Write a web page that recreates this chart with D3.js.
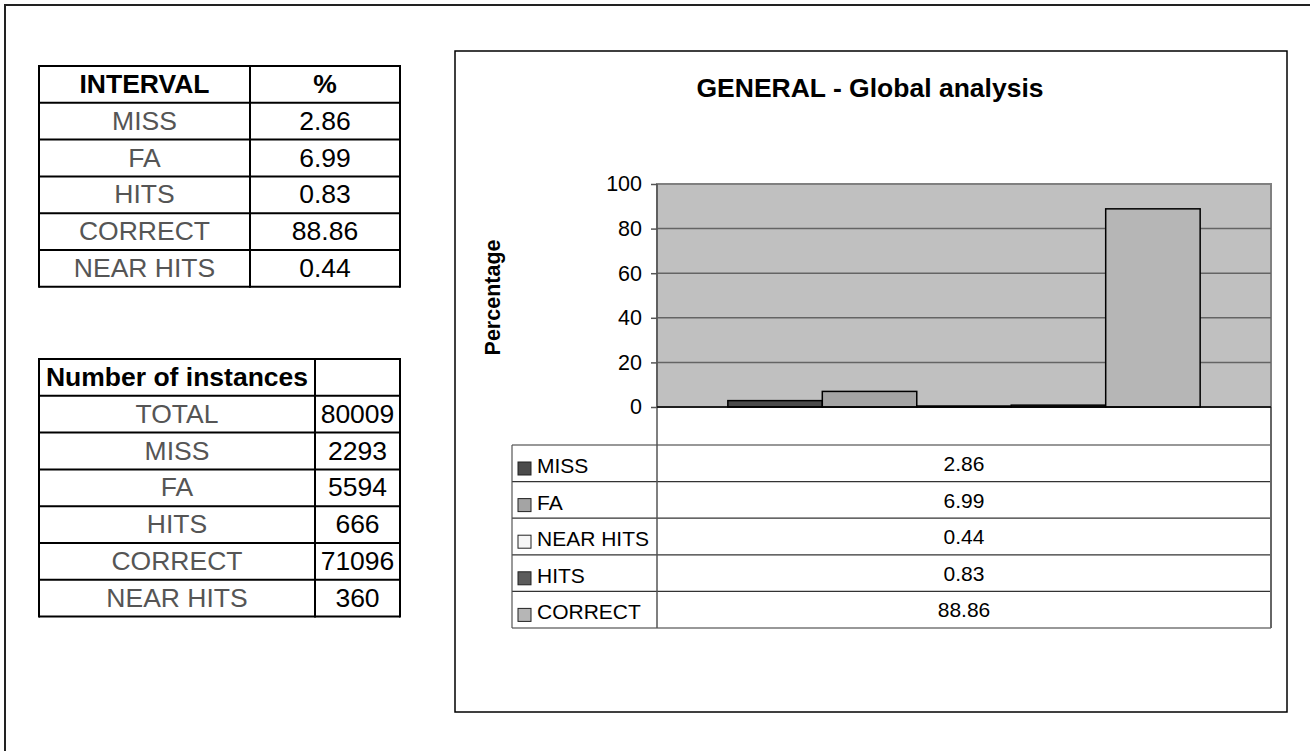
<!DOCTYPE html>
<html>
<head>
<meta charset="utf-8">
<script src="https://cdn.jsdelivr.net/npm/d3@7"></script>
<style>
  html, body { margin: 0; padding: 0; background: #fff; }
  svg { display: block; font-family: "Liberation Sans", Arial, sans-serif; }
</style>
</head>
<body>
<svg id="sheet" width="1310" height="751"></svg>
<script>
// Summary table: share of each interval type (%)
const intervalLabels = ["MISS", "FA", "HITS", "CORRECT", "NEAR HITS"];
const intervalPct = [2.86, 6.99, 0.83, 88.86, 0.44];

// Counts table
const instanceLabels = ["TOTAL", "MISS", "FA", "HITS", "CORRECT", "NEAR HITS"];
const instanceCounts = [80009, 2293, 5594, 666, 71096, 360];

// Chart series (one bar per series) and their fills
const seriesNames = ["MISS", "FA", "NEAR HITS", "HITS", "CORRECT"];
const seriesValues = [2.86, 6.99, 0.44, 0.83, 88.86];
const seriesFills = ["#4b4b4b", "#a4a4a4", "#f6f6f6", "#5b5b5b", "#b6b6b6"];

const yTicks = [0, 20, 40, 60, 80, 100];
const chartTitle = "GENERAL - Global analysis";
const yTitle = "Percentage";

const svg = d3.select("#sheet");

// Sheet frame
svg.append("rect")
  .attr("x", 5).attr("y", 5).attr("width", 1400).attr("height", 900)
  .attr("fill", "none").attr("stroke", "#222").attr("stroke-width", 2);

// ---------- Spreadsheet tables ----------
function drawTable(rows, x0, colX, x1, top, rowH) {
  const g = svg.append("g");
  const n = rows.length;
  rows.forEach((r, i) => {
    const cy = top + i * rowH + rowH / 2 + 8.5;
    g.append("text")
      .attr("x", (x0 + colX) / 2).attr("y", cy)
      .attr("text-anchor", "middle")
      .attr("font-size", 26.5)
      .attr("font-weight", i === 0 ? "bold" : "normal")
      .attr("fill", i === 0 ? "#000" : "#555")
      .text(r[0]);
    g.append("text")
      .attr("x", (colX + x1) / 2).attr("y", cy)
      .attr("text-anchor", "middle")
      .attr("font-size", 26.5)
      .attr("font-weight", i === 0 ? "bold" : "normal")
      .attr("fill", "#000")
      .text(r[1]);
  });
  for (let i = 0; i <= n; i++) {
    g.append("line")
      .attr("x1", x0).attr("x2", x1)
      .attr("y1", top + i * rowH).attr("y2", top + i * rowH)
      .attr("stroke", "#000").attr("stroke-width", 2);
  }
  [x0, colX, x1].forEach(x => {
    g.append("line")
      .attr("x1", x).attr("x2", x)
      .attr("y1", top - 1).attr("y2", top + n * rowH + 1)
      .attr("stroke", "#000").attr("stroke-width", 2);
  });
}

drawTable(
  [["INTERVAL", "%"]].concat(intervalLabels.map((l, i) => [l, intervalPct[i].toFixed(2)])),
  39, 250, 400, 66, 36.8
);
drawTable(
  [["Number of instances", ""]].concat(instanceLabels.map((l, i) => [l, String(instanceCounts[i])])),
  39, 315, 400, 359, 36.8
);

// ---------- Chart ----------
const box = { x: 455, y: 51, w: 832, h: 661 };
const plot = { left: 657, right: 1271, top: 184, bottom: 407 };
const table = { left: 512, top: 445, rowH: 36.6 };

svg.append("rect")
  .attr("x", box.x).attr("y", box.y).attr("width", box.w).attr("height", box.h)
  .attr("fill", "#fff").attr("stroke", "#000").attr("stroke-width", 1.5);

svg.append("text")
  .attr("x", box.x + box.w / 2 - 1).attr("y", 97)
  .attr("text-anchor", "middle")
  .attr("font-size", 26.5).attr("font-weight", "bold")
  .text(chartTitle);

const y = d3.scaleLinear().domain([0, 100]).range([plot.bottom, plot.top]);
const x = d3.scaleBand()
  .domain(seriesNames)
  .range([plot.left, plot.right])
  .paddingInner(0)
  .paddingOuter(0.75);

// plot area
svg.append("rect")
  .attr("x", plot.left).attr("y", plot.top)
  .attr("width", plot.right - plot.left).attr("height", plot.bottom - plot.top)
  .attr("fill", "#c0c0c0").attr("stroke", "#808080").attr("stroke-width", 2);

// gridlines
svg.append("g").selectAll("line")
  .data(yTicks.filter(t => t > 0 && t < 100))
  .join("line")
  .attr("x1", plot.left).attr("x2", plot.right)
  .attr("y1", d => y(d)).attr("y2", d => y(d))
  .attr("stroke", "#646464").attr("stroke-width", 1.5);

// bars
svg.append("g").selectAll("rect")
  .data(seriesNames.map((s, i) => ({ s, v: seriesValues[i], f: seriesFills[i] })))
  .join("rect")
  .attr("x", d => x(d.s))
  .attr("y", d => y(d.v))
  .attr("width", x.bandwidth())
  .attr("height", d => y(0) - y(d.v))
  .attr("fill", d => d.f)
  .attr("stroke", "#000").attr("stroke-width", 1.5);

// value axis
const yAxis = svg.append("g")
  .attr("transform", `translate(${plot.left},0)`)
  .call(d3.axisLeft(y).tickValues(yTicks).tickSize(6).tickPadding(9).tickFormat(d3.format("d")));
yAxis.select(".domain").remove();
yAxis.selectAll(".tick line").attr("stroke", "#555").attr("stroke-width", 1.5);
yAxis.selectAll(".tick text")
  .attr("font-size", 21.5).attr("font-family", "'Liberation Sans', Arial, sans-serif")
  .attr("fill", "#000");

svg.append("text")
  .attr("transform", `translate(500,${(plot.top + plot.bottom) / 2 + 2}) rotate(-90)`)
  .attr("text-anchor", "middle")
  .attr("font-size", 21.5).attr("font-weight", "bold")
  .text(yTitle);

// data table below the plot
const nRows = seriesNames.length;
const tBottom = table.top + nRows * table.rowH;
const tg = svg.append("g");
for (let i = 0; i <= nRows; i++) {
  tg.append("line")
    .attr("x1", table.left).attr("x2", plot.right)
    .attr("y1", table.top + i * table.rowH).attr("y2", table.top + i * table.rowH)
    .attr("stroke", "#333").attr("stroke-width", 1.2);
}
tg.append("line")
  .attr("x1", table.left).attr("x2", table.left)
  .attr("y1", table.top).attr("y2", tBottom)
  .attr("stroke", "#555").attr("stroke-width", 1.2);
tg.append("line")
  .attr("x1", plot.right).attr("x2", plot.right)
  .attr("y1", plot.bottom).attr("y2", tBottom)
  .attr("stroke", "#666").attr("stroke-width", 2);
// category axis line continues down through the table
tg.append("line")
  .attr("x1", plot.left).attr("x2", plot.left)
  .attr("y1", plot.top).attr("y2", tBottom)
  .attr("stroke", "#555").attr("stroke-width", 1.5);
// zero baseline
tg.append("line")
  .attr("x1", plot.left).attr("x2", plot.right)
  .attr("y1", y(0)).attr("y2", y(0))
  .attr("stroke", "#000").attr("stroke-width", 1.5);

seriesNames.forEach((s, i) => {
  const top = table.top + i * table.rowH;
  tg.append("rect")
    .attr("x", 518).attr("y", top + 17)
    .attr("width", 13).attr("height", 13)
    .attr("fill", seriesFills[i]).attr("stroke", "#222").attr("stroke-width", 1);
  tg.append("text")
    .attr("x", 537).attr("y", top + 28)
    .attr("font-size", 21)
    .text(s);
  tg.append("text")
    .attr("x", (plot.left + plot.right) / 2).attr("y", top + 26)
    .attr("text-anchor", "middle")
    .attr("font-size", 21)
    .text(seriesValues[i].toFixed(2));
});
</script>
</body>
</html>
